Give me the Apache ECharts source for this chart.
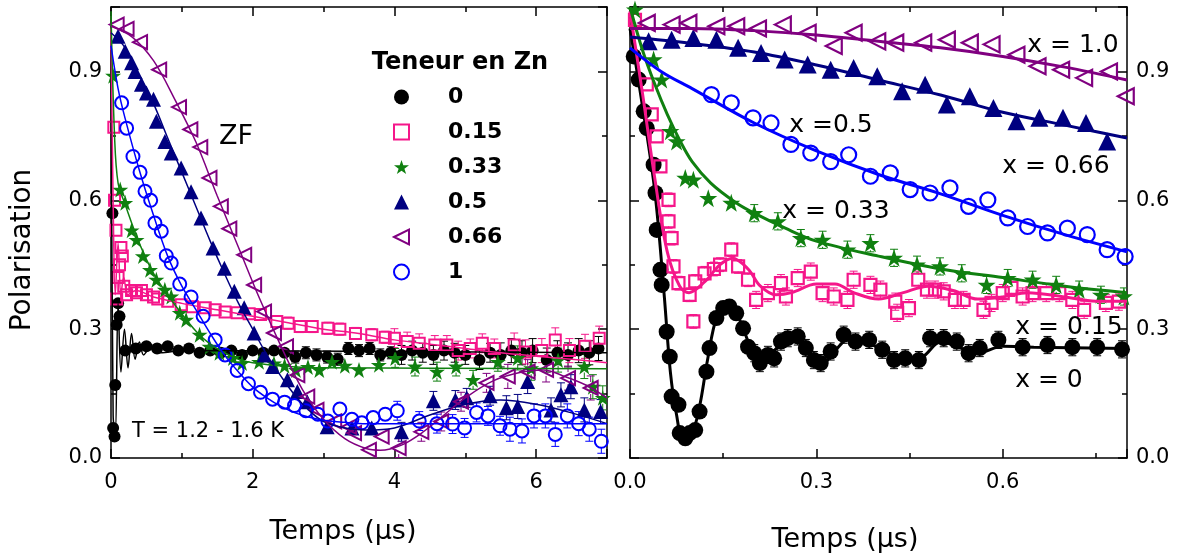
<!DOCTYPE html>
<html>
<head>
<meta charset="utf-8">
<script src="https://cdn.jsdelivr.net/npm/echarts@6/dist/echarts.min.js"></script>
<style>html,body{margin:0;padding:0;background:#fff;}#c{width:1180px;height:557px;}</style>
</head>
<body>
<div id="c"></div>
<script>
// ---------- DATA ----------
const leftXTicks = [0, 2, 4, 6];
const rightXTicks = [0.0, 0.3, 0.6];
const yTicks = [0.0, 0.3, 0.6, 0.9];
const legendNames = ['0', '0.15', '0.33', '0.5', '0.66', '1'];

// Left panel (0-7 µs): [time, polarisation]
const L_zn0 = [[0.02,0.57],[0.03,0.07],[0.05,0.05],[0.06,0.17],[0.08,0.31],[0.1,0.36],[0.12,0.33],[0.2,0.25],[0.35,0.255],[0.5,0.26],[0.65,0.255],[0.8,0.26],[0.95,0.25],[1.1,0.255],[1.25,0.245],[1.4,0.25],[1.55,0.245],[1.7,0.25],[1.85,0.24],[2.0,0.25],[2.15,0.245],[2.3,0.25],[2.45,0.245],[2.6,0.235],[2.75,0.245],[2.9,0.24],[3.05,0.235],[3.2,0.23],[3.35,0.255],[3.5,0.25],[3.65,0.255],[3.8,0.24],[3.95,0.245],[4.1,0.24],[4.25,0.25],[4.4,0.245],[4.55,0.24],[4.7,0.25],[4.85,0.245],[5.0,0.24],[5.2,0.228],[5.35,0.245],[5.5,0.24],[5.65,0.25],[5.8,0.245],[5.95,0.25],[6.15,0.228],[6.3,0.245],[6.45,0.24],[6.6,0.25],[6.75,0.245],[6.88,0.255]];
const L_zn15 = [[0.04,0.77],[0.05,0.6],[0.07,0.53],[0.08,0.37],[0.1,0.42],[0.12,0.45],[0.14,0.49],[0.16,0.47],[0.18,0.40],[0.22,0.38],[0.29,0.39],[0.36,0.385],[0.43,0.39],[0.5,0.38],[0.6,0.375],[0.66,0.37],[0.8,0.365],[0.99,0.357],[1.15,0.352],[1.33,0.35],[1.47,0.345],[1.61,0.34],[1.78,0.338],[1.95,0.336],[2.11,0.334],[2.34,0.318],[2.5,0.314],[2.67,0.306],[2.84,0.306],[3.06,0.302],[3.23,0.3],[3.45,0.29],[3.68,0.287],[3.87,0.281],[4.0,0.279],[4.18,0.271],[4.35,0.267],[4.57,0.263],[4.74,0.263],[4.9,0.25],[5.07,0.255],[5.24,0.267],[5.41,0.255],[5.69,0.263],[5.85,0.247],[6.08,0.25],[6.27,0.275],[6.47,0.25],[6.69,0.26],[6.89,0.279]];
const L_zn33 = [[0.03,0.89],[0.13,0.625],[0.2,0.594],[0.29,0.53],[0.36,0.508],[0.45,0.47],[0.55,0.438],[0.64,0.415],[0.76,0.392],[0.85,0.376],[0.97,0.338],[1.06,0.322],[1.25,0.287],[1.39,0.259],[1.53,0.245],[1.72,0.233],[1.85,0.221],[2.09,0.224],[2.3,0.22],[2.45,0.215],[2.61,0.205],[2.78,0.212],[2.94,0.205],[3.12,0.224],[3.3,0.215],[3.5,0.205],[3.78,0.217],[4.01,0.233],[4.29,0.213],[4.6,0.201],[4.87,0.213],[5.11,0.182],[5.46,0.224],[5.74,0.233],[5.93,0.209],[6.31,0.228],[6.68,0.213],[6.8,0.166],[6.94,0.14]];
const L_zn5 = [[0.1,0.982],[0.2,0.947],[0.29,0.92],[0.34,0.90],[0.43,0.87],[0.5,0.85],[0.6,0.835],[0.64,0.784],[0.76,0.737],[0.85,0.71],[0.99,0.675],[1.13,0.62],[1.27,0.559],[1.44,0.489],[1.6,0.442],[1.74,0.388],[1.88,0.35],[2.02,0.291],[2.16,0.24],[2.28,0.213],[2.49,0.182],[2.63,0.155],[2.77,0.131],[3.05,0.073],[3.4,0.07],[3.68,0.07],[4.1,0.061],[4.55,0.133],[4.86,0.135],[5.02,0.14],[5.35,0.145],[5.58,0.117],[5.74,0.12],[5.88,0.178],[6.21,0.112],[6.35,0.147],[6.49,0.166],[6.68,0.112],[6.91,0.108]];
const L_zn66 = [[0.08,1.009],[0.22,0.999],[0.41,0.968],[0.68,0.904],[0.96,0.817],[1.12,0.765],[1.26,0.724],[1.39,0.652],[1.55,0.586],[1.67,0.534],[1.88,0.473],[2.02,0.403],[2.16,0.341],[2.3,0.291],[2.47,0.26],[2.63,0.193],[2.77,0.143],[2.9,0.112],[3.15,0.085],[3.36,0.073],[3.43,0.058],[3.64,0.019],[3.82,0.05],[4.06,0.023],[4.38,0.061],[4.66,0.085],[4.94,0.131],[5.3,0.175],[5.6,0.19],[5.88,0.201],[6.14,0.205],[6.45,0.186],[6.77,0.163]];
const L_zn1 = [[0.15,0.827],[0.22,0.768],[0.31,0.702],[0.41,0.665],[0.48,0.621],[0.56,0.60],[0.62,0.547],[0.71,0.528],[0.78,0.471],[0.85,0.454],[0.97,0.405],[1.13,0.375],[1.3,0.33],[1.47,0.275],[1.61,0.24],[1.78,0.204],[1.94,0.173],[2.11,0.153],[2.28,0.137],[2.45,0.13],[2.59,0.122],[2.75,0.11],[2.92,0.102],[3.06,0.086],[3.23,0.114],[3.4,0.09],[3.54,0.082],[3.7,0.094],[3.87,0.102],[4.04,0.11],[4.35,0.086],[4.6,0.08],[4.82,0.079],[4.99,0.07],[5.16,0.106],[5.32,0.098],[5.49,0.075],[5.63,0.067],[5.8,0.063],[5.97,0.098],[6.13,0.098],[6.27,0.055],[6.44,0.098],[6.6,0.08],[6.75,0.067],[6.92,0.039]];

// Left fit curves
const LF_zn0 = [[0,0.95],[0.03,0.1],[0.06,0.05],[0.1,0.36],[0.14,0.2],[0.19,0.3],[0.24,0.21],[0.29,0.29],[0.34,0.23],[0.4,0.27],[0.46,0.24],[0.55,0.255],[0.7,0.245],[1.0,0.25],[7,0.245]];
const LF_zn15 = [[0,1.0],[0.03,0.6],[0.06,0.38],[0.1,0.5],[0.14,0.38],[0.18,0.42],[0.24,0.38],[0.35,0.39],[0.6,0.375],[1,0.36],[1.5,0.345],[2,0.33],[2.5,0.315],[3,0.3],[3.5,0.29],[4,0.275],[4.5,0.265],[5,0.255],[5.5,0.245],[6,0.237],[6.5,0.23],[7,0.222]];
const LF_zn33 = [[0,1.04],[0.05,0.75],[0.1,0.64],[0.2,0.59],[0.4,0.5],[0.6,0.43],[0.8,0.38],[1.0,0.335],[1.2,0.295],[1.4,0.265],[1.6,0.245],[1.8,0.23],[2.0,0.222],[2.5,0.213],[3,0.21],[7,0.208]];
const LF_zn5 = [[0,0.99],[0.2,0.955],[0.4,0.89],[0.6,0.825],[0.8,0.745],[1.0,0.665],[1.2,0.585],[1.4,0.505],[1.6,0.43],[1.8,0.36],[2.0,0.3],[2.2,0.24],[2.4,0.19],[2.6,0.145],[2.8,0.11],[3.0,0.085],[3.3,0.07],[3.6,0.065],[4.0,0.07],[4.5,0.1],[5.0,0.125],[5.5,0.135],[6.0,0.125],[6.5,0.105],[7.0,0.08]];
const LF_zn66 = [[0,1.005],[0.3,0.98],[0.6,0.925],[0.9,0.835],[1.2,0.735],[1.5,0.61],[1.8,0.49],[2.1,0.37],[2.4,0.26],[2.7,0.16],[3.0,0.09],[3.3,0.045],[3.6,0.022],[3.8,0.018],[4.1,0.03],[4.4,0.06],[4.7,0.1],[5.0,0.14],[5.4,0.18],[5.8,0.2],[6.1,0.205],[6.4,0.19],[6.7,0.17],[7.0,0.14]];
const LF_zn1 = [[0,0.96],[0.1,0.86],[0.2,0.79],[0.4,0.67],[0.6,0.565],[0.8,0.47],[1.0,0.4],[1.2,0.345],[1.4,0.29],[1.6,0.24],[1.8,0.2],[2.0,0.165],[2.2,0.14],[2.4,0.12],[2.6,0.105],[2.8,0.095],[3.0,0.088],[3.3,0.083],[3.6,0.08],[4,0.08],[7,0.08]];

// Right panel (0-0.8 µs): [time, polarisation]
const R_x0 = [[0.006,0.935],[0.014,0.881],[0.022,0.807],[0.027,0.768],[0.038,0.683],[0.041,0.617],[0.043,0.531],[0.049,0.438],[0.051,0.403],[0.059,0.294],[0.064,0.236],[0.067,0.143],[0.078,0.124],[0.08,0.058],[0.089,0.046],[0.096,0.058],[0.105,0.065],[0.112,0.108],[0.123,0.201],[0.128,0.256],[0.139,0.326],[0.15,0.349],[0.16,0.353],[0.171,0.337],[0.182,0.302],[0.19,0.259],[0.2,0.244],[0.209,0.221],[0.222,0.24],[0.232,0.232],[0.243,0.271],[0.254,0.279],[0.27,0.283],[0.283,0.256],[0.296,0.228],[0.307,0.221],[0.323,0.248],[0.344,0.287],[0.363,0.271],[0.385,0.275],[0.406,0.252],[0.425,0.228],[0.443,0.232],[0.465,0.228],[0.483,0.279],[0.505,0.279],[0.526,0.271],[0.545,0.244],[0.563,0.256],[0.593,0.275],[0.632,0.258],[0.672,0.263],[0.712,0.258],[0.752,0.258],[0.792,0.253]];
const R_x15 = [[0.008,1.02],[0.027,0.87],[0.035,0.80],[0.043,0.749],[0.049,0.679],[0.062,0.601],[0.062,0.551],[0.067,0.512],[0.07,0.446],[0.078,0.407],[0.096,0.38],[0.102,0.318],[0.105,0.411],[0.12,0.43],[0.135,0.44],[0.145,0.45],[0.163,0.485],[0.174,0.446],[0.19,0.415],[0.203,0.368],[0.222,0.384],[0.243,0.407],[0.251,0.376],[0.27,0.419],[0.291,0.434],[0.31,0.384],[0.328,0.376],[0.35,0.368],[0.36,0.415],[0.387,0.403],[0.403,0.392],[0.427,0.364],[0.43,0.338],[0.449,0.349],[0.464,0.415],[0.478,0.392],[0.491,0.392],[0.505,0.388],[0.523,0.368],[0.537,0.368],[0.569,0.345],[0.582,0.361],[0.6,0.384],[0.614,0.396],[0.632,0.376],[0.648,0.384],[0.67,0.384],[0.691,0.384],[0.712,0.368],[0.731,0.345],[0.766,0.361],[0.787,0.364]];
const R_x33 = [[0.008,1.044],[0.038,0.928],[0.051,0.881],[0.065,0.761],[0.075,0.737],[0.089,0.652],[0.102,0.648],[0.126,0.605],[0.163,0.594],[0.2,0.57],[0.238,0.551],[0.275,0.512],[0.31,0.508],[0.35,0.485],[0.387,0.50],[0.425,0.466],[0.462,0.45],[0.499,0.446],[0.534,0.43],[0.574,0.403],[0.608,0.419],[0.648,0.415],[0.686,0.403],[0.723,0.392],[0.758,0.38],[0.795,0.376]];
const R_x5 = [[0.131,0.846],[0.163,0.827],[0.198,0.792],[0.227,0.78],[0.259,0.73],[0.291,0.71],[0.323,0.69],[0.352,0.706],[0.387,0.656],[0.419,0.664],[0.451,0.625],[0.483,0.617],[0.515,0.629],[0.545,0.586],[0.576,0.601],[0.608,0.559],[0.64,0.539],[0.672,0.524],[0.704,0.535],[0.736,0.52],[0.768,0.485],[0.797,0.469]];
const R_x66 = [[0.03,0.97],[0.067,0.974],[0.102,0.978],[0.139,0.974],[0.174,0.955],[0.211,0.943],[0.249,0.928],[0.286,0.916],[0.323,0.904],[0.36,0.908],[0.398,0.889],[0.438,0.854],[0.475,0.869],[0.51,0.823],[0.547,0.842],[0.585,0.815],[0.622,0.784],[0.659,0.792],[0.697,0.792],[0.734,0.78],[0.768,0.737]];
const R_x10 = [[0.027,1.013],[0.067,1.009],[0.094,1.013],[0.139,1.005],[0.171,1.005],[0.206,1.0],[0.246,1.009],[0.286,0.99],[0.328,0.959],[0.36,0.99],[0.398,0.97],[0.427,0.967],[0.472,0.967],[0.51,0.974],[0.547,0.967],[0.582,0.963],[0.622,0.939],[0.656,0.912],[0.694,0.904],[0.731,0.885],[0.771,0.90],[0.798,0.842]];

// Right fit curves
const RF_x0 = [[0,1.0],[0.02,0.82],[0.04,0.62],[0.055,0.38],[0.065,0.2],[0.075,0.1],[0.085,0.05],[0.1,0.06],[0.112,0.12],[0.125,0.23],[0.14,0.33],[0.155,0.35],[0.17,0.34],[0.185,0.29],[0.2,0.245],[0.22,0.24],[0.24,0.26],[0.265,0.28],[0.29,0.24],[0.31,0.22],[0.33,0.25],[0.355,0.28],[0.38,0.27],[0.41,0.25],[0.44,0.23],[0.47,0.235],[0.5,0.27],[0.56,0.245],[0.6,0.26],[0.65,0.258],[0.8,0.255]];
const RF_x15 = [[0,1.04],[0.02,0.85],[0.04,0.65],[0.06,0.48],[0.08,0.4],[0.095,0.385],[0.12,0.41],[0.145,0.45],[0.165,0.465],[0.19,0.44],[0.21,0.4],[0.235,0.38],[0.26,0.385],[0.3,0.405],[0.33,0.405],[0.36,0.385],[0.4,0.37],[0.44,0.385],[0.48,0.4],[0.52,0.39],[0.56,0.37],[0.6,0.375],[0.64,0.385],[0.7,0.375],[0.75,0.365],[0.8,0.365]];
const RF_x33 = [[0,1.05],[0.02,0.95],[0.04,0.87],[0.06,0.8],[0.08,0.74],[0.1,0.69],[0.13,0.64],[0.17,0.595],[0.2,0.57],[0.25,0.535],[0.3,0.505],[0.4,0.47],[0.5,0.44],[0.6,0.42],[0.7,0.4],[0.8,0.385]];
const RF_x5 = [[0,0.955],[0.05,0.9],[0.1,0.86],[0.2,0.78],[0.3,0.715],[0.4,0.66],[0.5,0.615],[0.6,0.565],[0.7,0.52],[0.8,0.48]];
const RF_x66 = [[0,0.98],[0.1,0.965],[0.2,0.945],[0.3,0.915],[0.4,0.88],[0.5,0.845],[0.6,0.805],[0.7,0.775],[0.8,0.745]];
const RF_x10 = [[0,1.0],[0.1,1.0],[0.2,0.995],[0.3,0.985],[0.4,0.97],[0.5,0.955],[0.6,0.935],[0.7,0.91],[0.8,0.88]];

// Error-bar half-heights, by time range: [from time, half-height]
const leftErrBins = [[0, 0.004], [1, 0.008], [2.5, 0.014], [4, 0.022], [5.5, 0.028]];
const rightErrBins = [[0, 0.006], [0.05, 0.016], [0.2, 0.02]];
const rightSlowErrBins = [[0, 0.012]];

// ---------- STYLE ----------
const FONT = 'DejaVu Sans';
const C = {black:'#000000', pink:'#f5168a', green:'#108010', navy:'#000080', purple:'#800080', blue:'#0000ff'};
const STAR = 'path://M50,0 L61.8,35.3 L98.9,35.3 L68.9,57.1 L80.3,92.7 L50,70.9 L19.7,92.7 L31.1,57.1 L1.1,35.3 L38.2,35.3 Z';
const LTRI = 'path://M0,50 L100,0 L100,100 Z';
const NONE = 'rgba(0,0,0,0)';

function makeAxes(dim, grid, min, max, major, minor, labelPos, ticks, fmt) {
  const positions = dim === 'x' ? ['bottom', 'top'] : ['left', 'right'];
  const out = [];
  positions.forEach(pos => {
    out.push({
      type: 'value', gridIndex: grid, position: pos, min: min, max: max, interval: major,
      axisLine: {show: true, onZero: false, lineStyle: {color: '#000', width: 1.5}},
      axisTick: {show: true, inside: true, length: 9, lineStyle: {color: '#000', width: 1.5}},
      axisLabel: {show: pos === labelPos, fontFamily: FONT, fontSize: 21, color: '#000',
        margin: dim === 'x' ? 14 : 9,
        formatter: v => ticks.some(t => Math.abs(t - v) < 1e-6) ? fmt(v) : ''},
      splitLine: {show: false}
    });
    out.push({
      type: 'value', gridIndex: grid, position: pos, min: min, max: max, interval: minor,
      axisLine: {show: false, onZero: false},
      axisTick: {show: true, inside: true, length: 5, lineStyle: {color: '#000', width: 1.5}},
      axisLabel: {show: false}, splitLine: {show: false}
    });
  });
  return out;
}

const xAxes = [].concat(
  makeAxes('x', 0, 0, 7, 2, 1, 'bottom', leftXTicks, v => String(v)),
  makeAxes('x', 1, 0, 0.8, 0.3, 0.15, 'bottom', rightXTicks, v => v.toFixed(1))
);
const yAxes = [].concat(
  makeAxes('y', 0, 0, 1.05, 0.3, 0.15, 'left', yTicks, v => v.toFixed(1)),
  makeAxes('y', 1, 0, 1.05, 0.3, 0.15, 'right', yTicks, v => v.toFixed(1))
);

function errOf(bins, t) {
  let e = bins[0][1];
  bins.forEach(b => { if (t >= b[0]) e = b[1]; });
  return e;
}

// error bars drawn only outside the marker (radius r px)
function errorBars(grid, data, color, bins, cap, r) {
  return {
    type: 'custom', xAxisIndex: grid * 4, yAxisIndex: grid * 4, silent: true, clip: true, z: 1,
    data: data.map(d => [d[0], d[1], errOf(bins, d[0])]),
    renderItem: function (params, api) {
      const t = api.value(0), p = api.value(1), e = api.value(2);
      const top = api.coord([t, p + e]);
      const mid = api.coord([t, p]);
      const bot = api.coord([t, p - e]);
      if (mid[1] - top[1] <= r + 1) return null;
      const st = {stroke: color, lineWidth: 1};
      return {type: 'group', children: [
        {type: 'line', shape: {x1: top[0], y1: top[1], x2: top[0], y2: mid[1] - r}, style: st},
        {type: 'line', shape: {x1: bot[0], y1: mid[1] + r, x2: bot[0], y2: bot[1]}, style: st},
        {type: 'line', shape: {x1: top[0] - cap, y1: top[1], x2: top[0] + cap, y2: top[1]}, style: st},
        {type: 'line', shape: {x1: bot[0] - cap, y1: bot[1], x2: bot[0] + cap, y2: bot[1]}, style: st}
      ]};
    }
  };
}

function scatter(name, grid, data, symbol, size, color, open, bw) {
  return {
    name: name, type: 'scatter', xAxisIndex: grid * 4, yAxisIndex: grid * 4, data: data,
    symbol: symbol, symbolSize: size, silent: true, z: 2,
    itemStyle: open ? {color: NONE, borderColor: color, borderWidth: bw, opacity: 1}
                    : {color: color, borderColor: color, borderWidth: 0, opacity: 1}
  };
}
function fit(grid, data, color, width) {
  return {
    name: 'fit', type: 'line', xAxisIndex: grid * 4, yAxisIndex: grid * 4, data: data,
    showSymbol: false, symbol: 'none', smooth: 0.35, silent: true, clip: true, z: 3,
    lineStyle: {color: color, width: width}
  };
}

const series = [
  errorBars(0, L_zn0, C.black, leftErrBins, 4, 5),
  errorBars(0, L_zn15, C.pink, leftErrBins, 4, 5),
  errorBars(0, L_zn33, C.green, leftErrBins, 4, 6),
  errorBars(0, L_zn5, C.navy, leftErrBins, 4, 6),
  errorBars(0, L_zn66, C.purple, leftErrBins, 4, 6),
  errorBars(0, L_zn1, C.blue, leftErrBins, 4, 6),
  errorBars(1, R_x0, C.black, rightErrBins, 4, 7),
  errorBars(1, R_x15, C.pink, rightErrBins, 4, 5),
  errorBars(1, R_x33, C.green, rightErrBins, 4, 7),
  errorBars(1, R_x66, C.navy, rightSlowErrBins, 4, 6),
  errorBars(1, R_x10, C.purple, rightSlowErrBins, 4, 6),
  scatter('0', 0, L_zn0, 'circle', 12, C.black, false),
  scatter('0.15', 0, L_zn15, 'rect', 11, C.pink, true, 2),
  scatter('0.33', 0, L_zn33, STAR, 16, C.green, false),
  scatter('0.5', 0, L_zn5, 'triangle', 15, C.navy, false),
  scatter('0.66', 0, L_zn66, LTRI, 14, C.purple, true, 2),
  scatter('1', 0, L_zn1, 'circle', 13, C.blue, true, 2),
  fit(0, LF_zn0, C.black, 1.5),
  fit(0, LF_zn15, C.pink, 1.5),
  fit(0, LF_zn33, C.green, 1.5),
  fit(0, LF_zn5, C.navy, 1.5),
  fit(0, LF_zn66, C.purple, 1.5),
  fit(0, LF_zn1, C.blue, 1.5),
  scatter('0', 1, R_x0, 'circle', 16, C.black, false),
  scatter('0.15', 1, R_x15, 'rect', 12, C.pink, true, 2.2),
  scatter('0.33', 1, R_x33, STAR, 18, C.green, false),
  scatter('1', 1, R_x5, 'circle', 15, C.blue, true, 2.2),
  scatter('0.5', 1, R_x66, 'triangle', 18, C.navy, false),
  scatter('0.66', 1, R_x10, LTRI, 16, C.purple, true, 2.2),
  fit(1, RF_x0, C.black, 3),
  fit(1, RF_x15, C.pink, 3),
  fit(1, RF_x33, C.green, 3),
  fit(1, RF_x5, C.blue, 3),
  fit(1, RF_x66, C.navy, 3),
  fit(1, RF_x10, C.purple, 3)
];

function txt(x, y, s, size, weight, rot) {
  return {
    type: 'text', x: x, y: y, silent: true, z: 100, rotation: rot || 0,
    style: {text: s, fontFamily: FONT, fontSize: size, fontWeight: weight || 'normal', fill: '#000', align: 'center', verticalAlign: 'middle'}
  };
}

const option = {
  animation: false,
  backgroundColor: '#fff',
  grid: [
    {left: 111, top: 7, width: 496, height: 451, containLabel: false},
    {left: 630, top: 7, width: 497, height: 451, containLabel: false}
  ],
  xAxis: xAxes,
  yAxis: yAxes,
  legend: {
    data: legendNames, orient: 'vertical', left: 393, top: 86, padding: 0,
    itemWidth: 15, itemHeight: 15, itemGap: 13, selectedMode: false,
    itemStyle: {opacity: 1},
    textStyle: {fontFamily: FONT, fontWeight: 'bold', fontSize: 22, lineHeight: 22, color: '#000', padding: [0, 0, 0, 34]}
  },
  series: series,
  graphic: [
    txt(23, 250, 'Polarisation', 28, 'normal', Math.PI / 2),
    txt(343, 532, 'Temps (µs)', 27),
    txt(845, 540, 'Temps (µs)', 27),
    txt(236, 137, 'ZF', 27),
    txt(208, 432, 'T = 1.2 - 1.6 K', 21),
    txt(460, 63, 'Teneur en Zn', 24, 'bold'),
    txt(1073, 45, 'x = 1.0', 25),
    txt(831, 125, 'x =0.5', 25),
    txt(1056, 166, 'x = 0.66', 25),
    txt(836, 211, 'x = 0.33', 25),
    txt(1069, 327, 'x = 0.15', 25),
    txt(1049, 380, 'x = 0', 25)
  ]
};

const chart = echarts.init(document.getElementById('c'), null, {renderer: 'canvas'});
chart.setOption(option);
</script>
</body>
</html>
